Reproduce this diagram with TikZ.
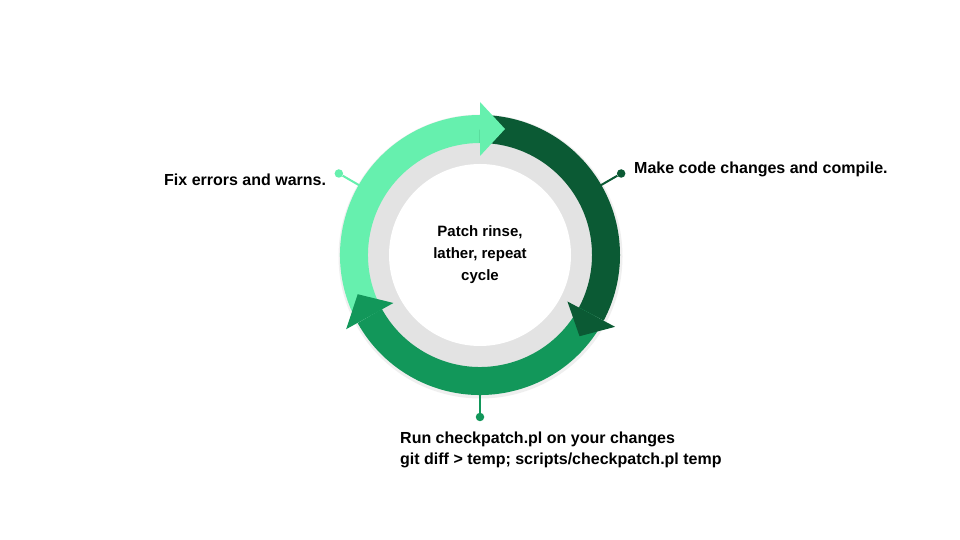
\documentclass[tikz,border=0pt]{standalone}
\usepackage{fontspec}
\setmainfont{Liberation Sans}
\usetikzlibrary{calc}
\definecolor{lightg}{HTML}{66F0AE}
\definecolor{darkg}{HTML}{0B5A34}
\definecolor{midg}{HTML}{12975A}
\definecolor{ringgray}{HTML}{E3E3E3}
\begin{document}
\begin{tikzpicture}[x=1pt,y=1pt,
  band/.style={line width=28pt},
  dotnode/.style={circle,inner sep=0pt,minimum size=8.5pt},
  lbl/.style={font=\bfseries\fontsize{16}{20.5}\selectfont,inner sep=0pt,text=black},
  link/.style={line width=2pt}]
\useasboundingbox[fill=white] (0,0) rectangle (960,540);
\coordinate (c) at (480,285);
% gray ring and white centre
\fill[black!12,opacity=0.5] ($(c)+(0.5,-1.5)$) circle (142);
\fill[ringgray] (c) circle (115);
\fill[white] (c) circle (91);
% connectors
\node[dotnode,fill=lightg] (d1) at ($(c)+(150:163)$) {};
\coordinate (r1) at ($(c)+(150:135)$);
\draw[link,lightg] (r1) -- (d1);
\node[dotnode,fill=darkg] (d2) at ($(c)+(30:163)$) {};
\coordinate (r2) at ($(c)+(30:135)$);
\draw[link,darkg] (r2) -- (d2);
\node[dotnode,fill=midg] (d3) at ($(c)+(270:162)$) {};
\coordinate (r3) at ($(c)+(270:135)$);
\draw[link,midg] (r3) -- (d3);
% bands
\draw[band,lightg] ($(c)+(209:126)$) arc[start angle=209,end angle=90,radius=126];
\draw[band,darkg] ($(c)+(90:126)$) arc[start angle=90,end angle=-28,radius=126];
\draw[band,midg] ($(c)+(-28:126)$) arc[start angle=-28,end angle=-151,radius=126];
% arrow heads
\foreach \ang/\col in {90/lightg,-28/darkg,-151/midg}{
  \fill[\col] ($(c)+(\ang:99)$) -- ($(c)+(\ang:153)$)
     -- ($(c)+(\ang:126)+(\ang-90:25)$) -- cycle;
}
% texts
\node[align=center,font=\bfseries\fontsize{15}{22}\selectfont,inner sep=0pt] (centre) at (c) {Patch rinse,\\lather, repeat\\cycle};
\node[lbl,anchor=base west] (t1) at (164,354.3) {Fix errors and warns.};
\node[lbl,anchor=base west] (t2) at (634,366) {Make code changes and compile.};
\node[lbl,anchor=base west,align=left] (t3) at (400,75.7) {Run checkpatch.pl on your changes\\git diff > temp; scripts/checkpatch.pl temp};
\end{tikzpicture}
\end{document}
